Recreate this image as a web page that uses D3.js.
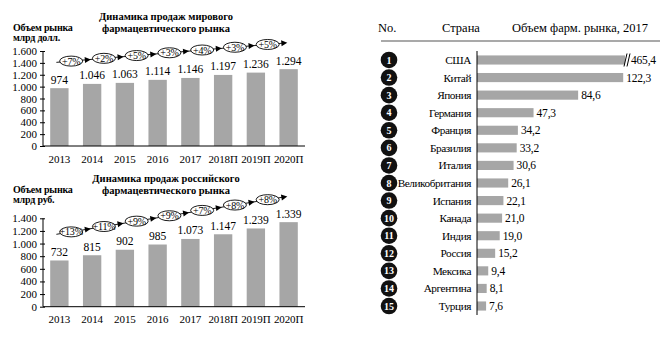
<!DOCTYPE html>
<html>
<head>
<meta charset="utf-8">
<script src="https://cdn.jsdelivr.net/npm/d3@7/dist/d3.min.js"></script>
<style>
  html, body { margin: 0; padding: 0; background: #fff; }
  svg, svg text { font-family: "Liberation Serif", "DejaVu Serif", "Times New Roman", serif; }
</style>
</head>
<body>
<svg id="chart" width="670" height="340"></svg>
<script>
// ---- data ----
const years = ["2013", "2014", "2015", "2016", "2017", "2018П", "2019П", "2020П"];
const worldSales = [974, 1046, 1063, 1114, 1146, 1197, 1236, 1294];
const worldGrowth = ["+7%", "+2%", "+5%", "+3%", "+4%", "+3%", "+5%"];
const worldTicks = [0, 200, 400, 600, 800, 1000, 1200, 1400, 1600];

const russiaSales = [732, 815, 902, 985, 1073, 1147, 1239, 1339];
const russiaGrowth = ["+13%", "+11%", "+9%", "+9%", "+7%", "+8%", "+8%"];
const russiaTicks = [0, 200, 400, 600, 800, 1000, 1200, 1400];

const ranks = [1, 2, 3, 4, 5, 6, 7, 8, 9, 10, 11, 12, 13, 14, 15];
const countries = ["США", "Китай", "Япония", "Германия", "Франция", "Бразилия", "Италия",
  "Великобритания", "Испания", "Канада", "Индия", "Россия", "Мексика", "Аргентина", "Турция"];
const marketSize2017 = [465.4, 122.3, 84.6, 47.3, 34.2, 33.2, 30.6, 26.1, 22.1, 21.0, 19.0, 15.2, 9.4, 8.1, 7.6];

// ---- formatting ----
const ru = d3.formatLocale({ decimal: ",", thousands: ".", grouping: [3], currency: ["", ""] });
const fmtInt = ru.format(",d");
const fmtDec = ru.format(",.1f");

const FONT = "'Liberation Serif', 'DejaVu Serif', 'Times New Roman', serif";
const BAR = "#a6a6a6";
const svg = d3.select("#chart").attr("font-family", FONT);

// ---- column chart with growth chain ----
function columnChart(opt) {
  const g = svg.append("g").attr("font-family", FONT);
  const x = d3.scaleBand().domain(years).range([43, 305]).paddingInner(0.44).paddingOuter(0.22);
  const y = d3.scaleLinear().domain([0, opt.max]).range(opt.yRange);

  // title
  const t = g.append("text").attr("text-anchor", "middle").attr("font-weight", "bold")
    .attr("font-size", 10.5).attr("x", 166);
  opt.title.forEach((line, i) => t.append("tspan").attr("x", 166).attr("y", opt.titleY + i * 12).text(line));

  // y label
  const yl = g.append("text").attr("font-weight", "bold").attr("font-size", 10).attr("letter-spacing", -0.2);
  opt.yLabel.forEach((line, i) => yl.append("tspan").attr("x", 13).attr("y", opt.yLabelY + i * 10).text(line));

  // bars
  g.selectAll("rect.bar").data(opt.values).join("rect")
    .attr("class", "bar")
    .attr("x", (d, i) => x(years[i]))
    .attr("width", x.bandwidth())
    .attr("y", d => y(d))
    .attr("height", d => y(0) - y(d))
    .attr("fill", BAR);

  // value labels
  g.selectAll("text.val").data(opt.values).join("text")
    .attr("class", "val")
    .attr("x", (d, i) => x(years[i]) + x.bandwidth() / 2)
    .attr("y", d => y(d) - 4.5)
    .attr("text-anchor", "middle")
    .attr("font-size", 11.5)
    .text(d => fmtInt(d));

  // y axis
  const yAxis = g.append("g").attr("transform", `translate(43,0)`)
    .call(d3.axisLeft(y).tickValues(opt.ticks).tickFormat(fmtInt).tickSize(3).tickPadding(3));
  yAxis.attr("font-family", FONT);
  yAxis.select(".domain").attr("d", `M0,${y(opt.max)}V${y(0)}`).attr("stroke", "#000");
  yAxis.selectAll(".tick line").attr("x1", 2).attr("x2", -3).attr("stroke", "#000");
  yAxis.selectAll(".tick text").attr("font-size", 11).attr("fill", "#000");

  // x axis
  const xAxis = g.append("g").attr("transform", `translate(0,${y(0)})`)
    .call(d3.axisBottom(x).tickSize(0).tickPadding(9));
  xAxis.attr("font-family", FONT);
  xAxis.select(".domain").attr("d", `M43,0H305`).attr("stroke", "#000");
  xAxis.selectAll(".tick text").attr("font-size", 11).attr("letter-spacing", -0.1).attr("fill", "#000");

  // growth chain: line with arrows and labelled ellipses
  const step = x.step();
  const cx = i => x(years[i]) + x.bandwidth() / 2;
  const n = opt.growth.length;
  const chainY = d3.scaleLinear().domain([0, n - 1]).range([y(opt.chain[0]), y(opt.chain[1])]);
  const ex = i => cx(i) + 0.36 * step;
  const tipX = i => cx(i + 1) - 0.04 * step;
  const slope = (chainY(n - 1) - chainY(0)) / (ex(n - 1) - ex(0));
  const yAt = xx => chainY(0) + (xx - ex(0)) * slope;

  const x0 = cx(0) - 3, x1 = tipX(n - 1);
  g.append("line").attr("x1", x0).attr("y1", yAt(x0)).attr("x2", x1 - 4).attr("y2", yAt(x1 - 4))
    .attr("stroke", "#000").attr("stroke-width", 0.9);

  const ang = Math.atan(slope) * 180 / Math.PI;
  g.selectAll("path.arrow").data(d3.range(n)).join("path")
    .attr("class", "arrow")
    .attr("d", "M0,0L-6,-3L-6,3Z")
    .attr("fill", "#000")
    .attr("transform", i => `translate(${tipX(i)},${yAt(tipX(i))}) rotate(${ang})`);

  const eg = g.selectAll("g.pct").data(opt.growth).join("g")
    .attr("class", "pct")
    .attr("transform", (d, i) => `translate(${ex(i)},${yAt(ex(i))})`);
  eg.append("ellipse").attr("rx", 11.5).attr("ry", 5).attr("fill", "#fff").attr("stroke", "#000").attr("stroke-width", 0.9);
  eg.append("text").attr("text-anchor", "middle").attr("dy", "0.35em").attr("font-size", 10)
    .attr("letter-spacing", -0.2).text(d => d);
}

columnChart({
  values: worldSales, growth: worldGrowth, ticks: worldTicks, max: 1600,
  yRange: [146, 51], chain: [1430, 1710],
  title: ["Динамика продаж мирового", "фармацевтического рынка"], titleY: 20,
  yLabel: ["Объем рынка", "млрд долл."], yLabelY: 31
});

columnChart({
  values: russiaSales, growth: russiaGrowth, ticks: russiaTicks, max: 1400,
  yRange: [306.7, 218.3], chain: [1185, 1695],
  title: ["Динамика продаж российского", "фармацевтического рынка"], titleY: 182,
  yLabel: ["Объем рынка", "млрд руб."], yLabelY: 193
});

// ---- ranking table with horizontal bars ----
(function ranking() {
  const g = svg.append("g").attr("font-family", FONT);
  const cap = 123.8;                      // values beyond this are drawn with a break
  const x = d3.scaleLinear().domain([0, cap]).range([477, 625]);
  const y = d3.scaleBand().domain(countries).range([51.2, 314.8]).paddingInner(0.48).paddingOuter(0.24);
  const rowY = c => y(c) + y.bandwidth() / 2;

  // header
  const hdr = g.append("g").attr("font-size", 12.5);
  hdr.append("text").attr("x", 378).attr("y", 32).text("No.");
  hdr.append("text").attr("x", 461).attr("y", 32).attr("text-anchor", "middle").text("Страна");
  hdr.append("text").attr("x", 580).attr("y", 32).attr("text-anchor", "middle").text("Объем фарм. рынка, 2017");
  g.append("line").attr("x1", 381).attr("x2", 660).attr("y1", 41).attr("y2", 41)
    .attr("stroke", "#555").attr("stroke-width", 1.2);

  // rank badges
  const badge = g.selectAll("g.rank").data(ranks).join("g")
    .attr("class", "rank")
    .attr("transform", (d, i) => `translate(389,${rowY(countries[i])})`);
  badge.append("circle").attr("r", 8.3).attr("fill", "#111");
  badge.append("text").attr("text-anchor", "middle").attr("dy", "0.36em")
    .attr("font-size", 10).attr("font-weight", "bold").attr("fill", "#fff").text(d => d);

  // country names
  g.selectAll("text.country").data(countries).join("text")
    .attr("class", "country")
    .attr("x", 471).attr("y", d => rowY(d)).attr("dy", "0.35em")
    .attr("text-anchor", "end").attr("font-size", 11.3).attr("letter-spacing", -0.45).text(d => d);

  // bars
  g.selectAll("rect.hbar").data(marketSize2017).join("rect")
    .attr("class", "hbar")
    .attr("x", x(0))
    .attr("y", (d, i) => y(countries[i]))
    .attr("width", d => x(Math.min(d, cap)) - x(0))
    .attr("height", y.bandwidth())
    .attr("fill", BAR);

  // break mark on the clipped bar
  marketSize2017.forEach((d, i) => {
    if (d <= cap) return;
    const yc = rowY(countries[i]);
    const bx = x(cap);
    [0, 3].forEach(off => {
      g.append("line").attr("x1", bx - 1 + off).attr("y1", yc + 6.5).attr("x2", bx + 2 + off).attr("y2", yc - 6.5)
        .attr("stroke", "#000").attr("stroke-width", 1);
    });
  });

  // value labels
  g.selectAll("text.hval").data(marketSize2017).join("text")
    .attr("class", "hval")
    .attr("x", d => x(Math.min(d, cap)) + (d > cap ? 6 : 3))
    .attr("y", (d, i) => rowY(countries[i])).attr("dy", "0.35em")
    .attr("font-size", 11.5).attr("letter-spacing", -0.2).text(d => fmtDec(d));

  // axis line
  g.append("line").attr("x1", x(0)).attr("x2", x(0)).attr("y1", 51).attr("y2", 315)
    .attr("stroke", "#000").attr("stroke-width", 1);
})();
</script>
</body>
</html>
